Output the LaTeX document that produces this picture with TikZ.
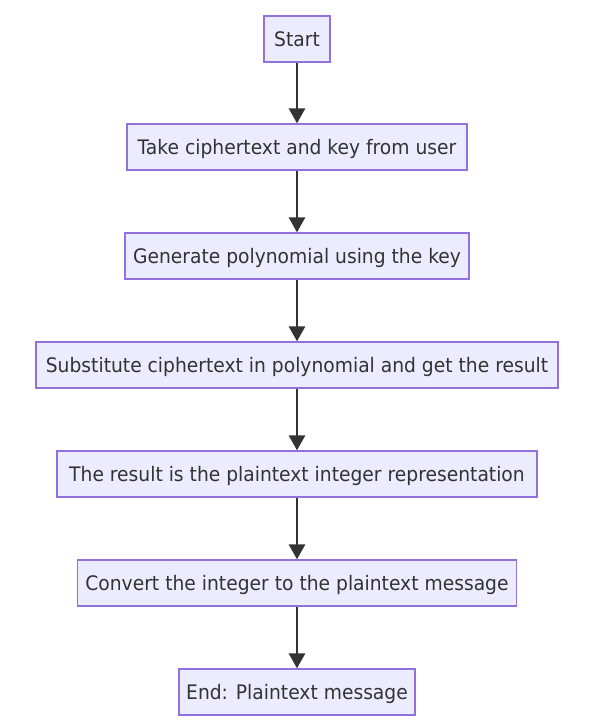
\documentclass[tikz,border=0pt]{standalone}
\usepackage{fontspec}
\setmainfont[FakeStretch=0.935]{DejaVu Sans}
\usetikzlibrary{arrows.meta}
\definecolor{nodefill}{HTML}{ECECFF}
\definecolor{nodeborder}{HTML}{9370DB}
\definecolor{edgecol}{HTML}{333333}
\begin{document}
\begin{tikzpicture}[x=1pt,y=-1pt,
  box/.style={draw=nodeborder,fill=nodefill,line width=1.3pt,minimum height=46pt,inner sep=0pt,text=edgecol,text height=14.6pt,text depth=0pt,font=\fontsize{20}{24}\selectfont},
  flow/.style={draw=edgecol,line width=2.8pt,-{Triangle[length=15pt,width=16pt]}}]
\useasboundingbox (0,0) rectangle (590,724);
\node[box,minimum width=66pt] (n1) at (297,39) {Start};
\node[box,minimum width=340pt] (n2) at (297,147) {Take ciphertext and key from user};
\node[box,minimum width=344pt] (n3) at (297,256) {Generate polynomial using the key};
\node[box,minimum width=522pt] (n4) at (297,365) {Substitute ciphertext in polynomial and get the result};
\node[box,minimum width=480pt] (n5) at (297,474) {The result is the plaintext integer representation};
\node[box,minimum width=439pt] (n6) at (297,583) {Convert the integer to the plaintext message};
\node[box,minimum width=236pt] (n7) at (297,692) {End: Plaintext message};
\foreach \a/\b in {n1/n2,n2/n3,n3/n4,n4/n5,n5/n6,n6/n7}
  \draw[flow] (\a.south) -- (\b.north);
\end{tikzpicture}
\end{document}
